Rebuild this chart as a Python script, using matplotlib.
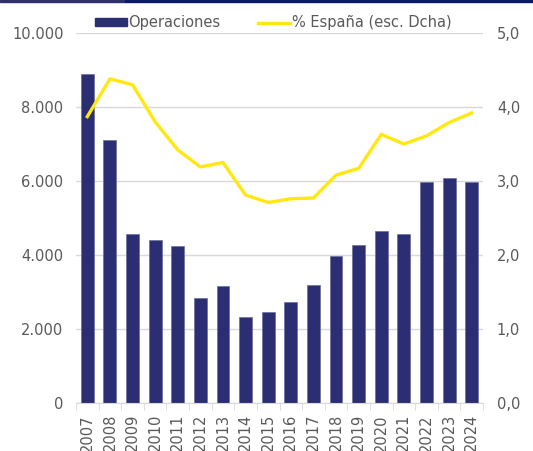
import matplotlib.pyplot as plt
import matplotlib.patches as mpatches
from matplotlib.lines import Line2D
from matplotlib.ticker import FuncFormatter

# datos
years = [str(y) for y in range(2007, 2025)]
operaciones = [8900, 7100, 4570, 4410, 4240, 2840, 3160, 2330, 2470,
               2740, 3200, 3970, 4280, 4650, 4570, 5980, 6070, 5960]
pct_espana = [3.87, 4.38, 4.30, 3.80, 3.42, 3.19, 3.25, 2.81, 2.71,
              2.76, 2.77, 3.08, 3.17, 3.63, 3.50, 3.61, 3.79, 3.92]

bar_color = '#2b2e72'
line_color = '#ffe810'
grey = '#595959'

plt.rcParams['font.family'] = ['DejaVu Sans']
plt.rcParams['font.size'] = 10.5

fig = plt.figure(figsize=(5.33, 4.51), dpi=100)
ax = fig.add_axes([76 / 533, 1 - 403 / 451, (483 - 76) / 533, (403 - 33) / 451])

x = list(range(len(years)))
ax.bar(x, operaciones, width=0.57, color=bar_color, edgecolor='#6b6f9e', linewidth=0.5, zorder=2)
ax.set_ylim(0, 10000)
ax.set_xlim(-0.5, len(years) - 0.5)
ax.set_yticks(range(0, 10001, 2000))
ax.yaxis.set_major_formatter(FuncFormatter(lambda v, p: f'{int(v):,}'.replace(',', '.')))
ax.grid(axis='y', color='#d9d9d9', linewidth=1, zorder=0)
ax.set_axisbelow(True)

ax.set_xticks(x)
ax.set_xticklabels(years, rotation=90, color=grey)
ax.set_xticks([i - 0.5 for i in range(len(years) + 1)], minor=True)
ax.tick_params(axis='x', which='major', length=0, pad=8)
ax.tick_params(axis='x', which='minor', length=5, color='#d9d9d9')
ax.tick_params(axis='y', length=0, colors=grey, pad=9)
for s in ['top', 'right', 'left']:
    ax.spines[s].set_visible(False)
ax.spines['bottom'].set_color('#d9d9d9')

ax2 = ax.twinx()
ax2.plot(x, pct_espana, color=line_color, linewidth=2.4, zorder=3)
ax2.set_ylim(0, 5)
ax2.set_yticks([0, 1, 2, 3, 4, 5])
ax2.yaxis.set_major_formatter(FuncFormatter(lambda v, p: f'{v:.1f}'.replace('.', ',')))
ax2.tick_params(axis='y', length=0, colors=grey, pad=10)
for s in ['top', 'right', 'left', 'bottom']:
    ax2.spines[s].set_visible(False)

handles = [mpatches.Patch(color=bar_color, label='Operaciones'),
           Line2D([0], [0], color=line_color, linewidth=2.4, label='% España (esc. Dcha)')]
leg = fig.legend(handles=handles, loc='center', bbox_to_anchor=(0.512, 1 - 23 / 451), ncol=2,
                 frameon=False, handlelength=2.2, handleheight=0.5, columnspacing=2.6,
                 handletextpad=0.1)
for t in leg.get_texts():
    t.set_color(grey)

# franja superior
fig.patches.append(mpatches.Rectangle((0, 1 - 2 / 451), 125 / 533, 2 / 451,
                                      transform=fig.transFigure, color='#2f2f6e', zorder=5))
fig.patches.append(mpatches.Rectangle((125 / 533, 1 - 2 / 451), 1, 2 / 451,
                                      transform=fig.transFigure, color='#0b1a68', zorder=5))

fig.savefig('out.png', dpi=100)
